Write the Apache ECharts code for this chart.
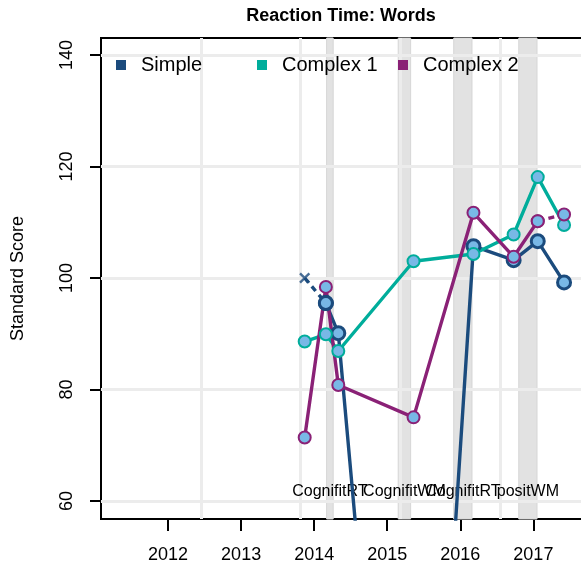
<!DOCTYPE html>
<html>
<head>
<meta charset="utf-8">
<script src="https://cdn.jsdelivr.net/npm/echarts@6/dist/echarts.min.js"></script>
<style>
  html, body { margin: 0; padding: 0; background: #fff; }
  #chart { width: 581px; height: 569px; }
</style>
</head>
<body>
<div id="chart"></div>
<script>
// test dates (decimal years) shared by the three series
const testYears = [2013.87, 2014.16, 2014.33, 2015.36, 2016.18, 2016.73, 2017.06, 2017.42];

const seriesNames = ['Simple', 'Complex 1', 'Complex 2'];
const simpleScores = [100, 95.5, 90.1, -60, 105.7, 103.2, 106.6, 99.2];
const complex1Scores = [88.6, 89.9, 86.9, 103.0, 104.3, 107.8, 118.1, 109.5];
const complex2Scores = [71.4, 98.4, 80.8, 75.0, 111.7, 103.8, 110.2, 111.4];

// segment i joins point i and i+1 with a dashed line
const simpleDashed = [0];
const complex1Dashed = [];
const complex2Dashed = [6];
// points drawn as a cross instead of a circle
const simpleCross = [0];

// training periods
const bandStarts = [2014.17, 2015.15, 2015.91, 2016.80];
const bandEnds = [2014.26, 2015.32, 2016.16, 2017.05];
const bandLabels = ['CognifitRT', 'CognifitWM', 'CognifitRT', 'positWM'];

const yearTicks = [2012, 2013, 2014, 2015, 2016, 2017];
const scoreTicks = [60, 80, 100, 120, 140];
const gridYears = [2012.45, 2013.81, 2015.18, 2016.55];

const colors = ['#1b4b7d', '#00ad9b', '#8a2176'];
const pointFill = '#78b8e6';
const font = 'Liberation Sans, Arial, sans-serif';
const cross = 'path://M0,1.5L1.5,0L5,3.5L8.5,0L10,1.5L6.5,5L10,8.5L8.5,10L5,6.5L1.5,10L0,8.5L3.5,5Z';

const chart = echarts.init(document.getElementById('chart'));

function makeRuns(scores, dashed) {
  const out = [];
  let cur = null;
  for (let i = 0; i < scores.length - 1; i++) {
    const d = dashed.includes(i);
    if (!cur || cur.dashed !== d) {
      cur = { dashed: d, idx: [i] };
      out.push(cur);
    }
    cur.idx.push(i + 1);
  }
  return out;
}

function buildSeries(name, scores, dashed, crosses, color, size, bw) {
  const lines = makeRuns(scores, dashed).map((run, k) => ({
    name: run.dashed ? name + ' dashed ' + k : name,
    type: 'line',
    z: 5,
    symbol: 'circle',
    symbolSize: size,
    showAllSymbol: true,
    itemStyle: { color: pointFill, borderColor: color, borderWidth: bw },
    lineStyle: { color: color, width: 3.4, type: run.dashed ? [6, 5] : 'solid' },
    emphasis: { disabled: true },
    data: run.idx.map(i => {
      const item = { value: [testYears[i], scores[i]] };
      if (crosses.includes(i)) item.symbol = 'none';
      return item;
    })
  }));
  if (crosses.length) {
    lines.push({
      name: name + ' cross',
      type: 'scatter',
      z: 6,
      symbol: cross,
      symbolSize: 11,
      itemStyle: { color: color },
      emphasis: { disabled: true },
      data: crosses.map(i => [testYears[i], scores[i]])
    });
  }
  return lines;
}

const legendLeft = [116, 257, 398];
const bandPairs = bandLabels.map((lab, i) => [{ name: lab, xAxis: bandStarts[i] }, { xAxis: bandEnds[i] }]);

const option = {
  animation: false,
  title: {
    text: 'Reaction Time: Words',
    left: 341,
    top: 7,
    padding: 0,
    textAlign: 'center',
    textStyle: { fontSize: 18, fontWeight: 'bold', color: '#000', fontFamily: font }
  },
  legend: seriesNames.map((name, i) => ({
    data: [{ name: name, icon: 'rect', itemStyle: { color: colors[i], borderWidth: 0 } }],
    left: legendLeft[i],
    top: 55,
    z: 10,
    padding: 0,
    itemWidth: 10,
    itemHeight: 10,
    selectedMode: false,
    textStyle: { fontSize: 20, color: '#000', fontFamily: font, padding: [0, 0, 0, 10] }
  })),
  grid: {
    left: 101, top: 38, width: 499, height: 481,
    outerBoundsMode: 'none',
    containLabel: false,
    show: true, borderColor: '#000', borderWidth: 2
  },
  xAxis: {
    type: 'value',
    min: 2011.082,
    max: 2017.912,
    axisLine: { show: false },
    splitLine: { show: false },
    axisTick: { show: true, length: 12, lineStyle: { color: '#000', width: 2 }, customValues: yearTicks },
    axisLabel: { customValues: yearTicks, margin: 27, fontSize: 18, color: '#000', fontFamily: font, formatter: v => String(v) }
  },
  yAxis: {
    type: 'value',
    min: 56.77,
    max: 143.05,
    name: 'Standard Score',
    nameLocation: 'middle',
    nameRotate: 90,
    nameGap: 74,
    nameTextStyle: { fontSize: 18, color: '#000', fontFamily: font },
    axisLine: { show: false },
    splitLine: { show: false },
    axisTick: { show: true, length: 11, lineStyle: { color: '#000', width: 2 }, customValues: scoreTicks },
    axisLabel: { customValues: scoreTicks, rotate: 90, margin: 25, fontSize: 18, color: '#000', fontFamily: font }
  },
  series: [
    {
      name: 'bands',
      type: 'line',
      z: 1,
      data: [],
      markArea: {
        z: 1,
        silent: true,
        itemStyle: { color: '#e2e2e2', borderColor: '#d6d6d6', borderWidth: 1 },
        label: { show: false },
        data: bandPairs
      }
    },
    {
      name: 'grid',
      type: 'line',
      z: 1,
      data: [],
      markLine: {
        z: 2,
        silent: true,
        symbol: 'none',
        label: { show: false },
        lineStyle: { color: '#ececec', width: 3, type: 'solid' },
        data: gridYears.map(v => ({ xAxis: v })).concat(scoreTicks.map(v => ({ yAxis: v })))
      }
    },
    {
      name: 'band labels',
      type: 'line',
      z: 3,
      data: [],
      markArea: {
        z: 3,
        silent: true,
        itemStyle: { color: 'transparent' },
        label: { show: true, position: 'insideBottom', distance: 19, fontSize: 16, color: '#000', fontFamily: font },
        data: bandPairs
      }
    },
    ...buildSeries(seriesNames[0], simpleScores, simpleDashed, simpleCross, colors[0], 13, 3),
    ...buildSeries(seriesNames[1], complex1Scores, complex1Dashed, [], colors[1], 12, 2),
    ...buildSeries(seriesNames[2], complex2Scores, complex2Dashed, [], colors[2], 12, 2)
  ]
};

chart.setOption(option);
</script>
</body>
</html>
